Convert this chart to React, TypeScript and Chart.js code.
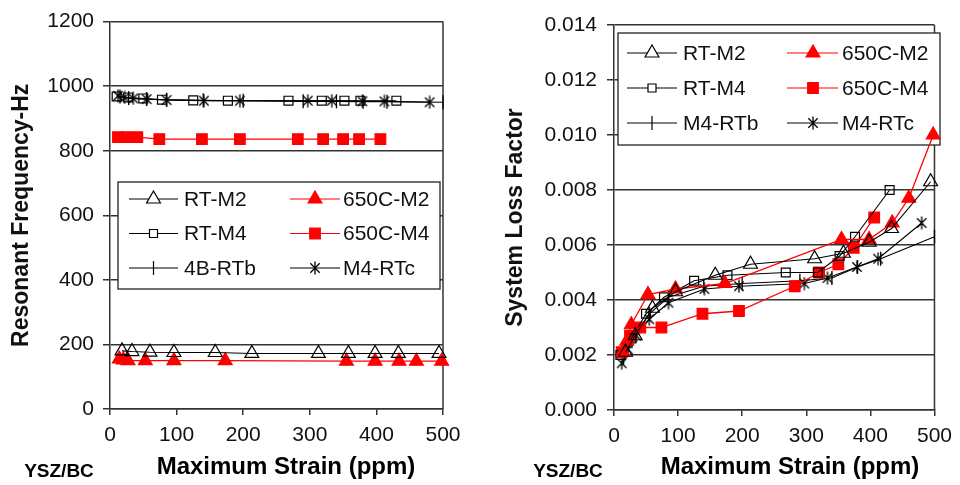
import React, { useEffect, useRef } from "react";
import { Chart, registerables } from "chart.js";

Chart.register(...registerables);

const FONT = "'Liberation Sans', Arial, Helvetica, sans-serif";
const AXIS = "#333333";
const RED = "#ff0000";

// ---- tick values ----
const strainTicks = [0, 100, 200, 300, 400, 500];
const freqTicks = [0, 200, 400, 600, 800, 1000, 1200];
const lossTicks = [0, 0.002, 0.004, 0.006, 0.008, 0.01, 0.012, 0.014];
const lossTickLabels = ["0.000", "0.002", "0.004", "0.006", "0.008", "0.010", "0.012", "0.014"];

// ---- series labels ----
const leftLabels = ["RT-M2", "650C-M2", "RT-M4", "650C-M4", "4B-RTb", "M4-RTc"];
const rightLabels = ["RT-M2", "650C-M2", "RT-M4", "650C-M4", "M4-RTb", "M4-RTc"];

// ---- data (maximum strain, ppm) ----
const rtM2Strain = [18, 33, 60, 96, 158, 213, 313, 358, 398, 433, 494];
const rtM2Freq = [180, 178, 176, 175, 175, 172, 172, 172, 172, 172, 172];
const rtM2Loss = [0.0021, 0.0027, 0.0037, 0.0043, 0.0049, 0.0053, 0.0055, 0.0057, 0.0061, 0.0066, 0.0083];

const c650M2Strain = [14, 20, 27, 53, 96, 173, 355, 398, 434, 460, 498];
const c650M2Freq = [155, 152, 150, 150, 150, 150, 148, 148, 148, 148, 148];
const c650M2Loss = [0.0021, 0.0025, 0.0031, 0.0042, 0.0044, 0.0046, 0.0062, 0.0062, 0.0068, 0.0077, 0.01];

const rtM4Strain = [10, 27, 50, 78, 125, 177, 268, 318, 352, 376, 430];
const rtM4Freq = [968, 965, 962, 958, 956, 955, 955, 955, 955, 955, 955];
const rtM4Loss = [0.002, 0.0026, 0.0035, 0.0041, 0.0047, 0.0049, 0.005, 0.005, 0.0056, 0.0063, 0.008];

const c650M4Strain = [12, 25, 41, 74, 138, 195, 282, 320, 350, 374, 406];
const c650M4Freq = [842, 842, 842, 836, 836, 836, 836, 836, 836, 836, 836];
const c650M4Loss = [0.0021, 0.0027, 0.003, 0.003, 0.0035, 0.0036, 0.0045, 0.005, 0.0053, 0.0059, 0.007];

const rtbStrain = [15, 28, 55, 85, 140, 200, 290, 340, 380, 416, 500];
const rtbFreq = [968, 963, 960, 958, 956, 955, 953, 953, 952, 952, 950];
const rtbLoss = [0.0019, 0.0025, 0.0035, 0.0041, 0.0045, 0.0046, 0.0047, 0.0048, 0.0052, 0.0055, 0.0063];

const rtcStrain = [12, 22, 35, 55, 85, 141, 195, 297, 333, 379, 412, 480];
const rtcFreq = [970, 965, 962, 960, 957, 955, 955, 955, 955, 953, 953, 950];
const rtcLoss = [0.0017, 0.0022, 0.0027, 0.0033, 0.0039, 0.0044, 0.0045, 0.0046, 0.0048, 0.0052, 0.0055, 0.0068];

type Shape = "triangle" | "square" | "bar" | "star";
interface Series {
  strain: number[];
  freq: number[];
  loss: number[];
  color: string;
  shape: Shape;
  filled: boolean;
}

const SERIES: Series[] = [
  { strain: rtM2Strain, freq: rtM2Freq, loss: rtM2Loss, color: "#000", shape: "triangle", filled: false },
  { strain: c650M2Strain, freq: c650M2Freq, loss: c650M2Loss, color: RED, shape: "triangle", filled: true },
  { strain: rtM4Strain, freq: rtM4Freq, loss: rtM4Loss, color: "#000", shape: "square", filled: false },
  { strain: c650M4Strain, freq: c650M4Freq, loss: c650M4Loss, color: RED, shape: "square", filled: true },
  { strain: rtbStrain, freq: rtbFreq, loss: rtbLoss, color: "#000", shape: "bar", filled: false },
  { strain: rtcStrain, freq: rtcFreq, loss: rtcLoss, color: "#000", shape: "star", filled: false },
];

function makeStar(size: number, color: string): HTMLCanvasElement {
  const c = document.createElement("canvas");
  c.width = size;
  c.height = size;
  const ctx = c.getContext("2d")!;
  ctx.strokeStyle = color;
  ctx.lineWidth = 1.3;
  const m = size / 2;
  const r = size / 2 - 0.5;
  const d = r * 0.72;
  ctx.beginPath();
  ctx.moveTo(m, m - r);
  ctx.lineTo(m, m + r);
  ctx.moveTo(m - d, m - d);
  ctx.lineTo(m + d, m + d);
  ctx.moveTo(m + d, m - d);
  ctx.lineTo(m - d, m + d);
  ctx.stroke();
  return c;
}

function pointProps(s: Series, star: HTMLCanvasElement) {
  const fill = s.filled ? s.color : "rgba(0,0,0,0)";
  switch (s.shape) {
    case "triangle":
      return { pointStyle: "triangle", pointRadius: 8, pointBackgroundColor: fill, pointBorderColor: s.color, pointBorderWidth: 1.2, pointRotation: 0 };
    case "square":
      return { pointStyle: "rect", pointRadius: s.filled ? 7.5 : 6.3, pointBackgroundColor: fill, pointBorderColor: s.color, pointBorderWidth: 1.2, pointRotation: 0 };
    case "bar":
      return { pointStyle: "line", pointRadius: 7, pointBackgroundColor: fill, pointBorderColor: s.color, pointBorderWidth: 1.3, pointRotation: 90 };
    default:
      return { pointStyle: star as any, pointRadius: 7, pointBackgroundColor: fill, pointBorderColor: s.color, pointBorderWidth: 1, pointRotation: 0 };
  }
}

function drawMarker(ctx: CanvasRenderingContext2D, s: Series, x: number, y: number, star: HTMLCanvasElement) {
  ctx.save();
  ctx.strokeStyle = s.color;
  ctx.fillStyle = s.filled ? s.color : "#fff";
  ctx.lineWidth = 1.2;
  if (s.shape === "triangle") {
    const r = 8;
    ctx.beginPath();
    ctx.moveTo(x, y - r);
    ctx.lineTo(x + 0.866 * r, y + 0.5 * r);
    ctx.lineTo(x - 0.866 * r, y + 0.5 * r);
    ctx.closePath();
    ctx.fill();
    ctx.stroke();
  } else if (s.shape === "square") {
    const h = s.filled ? 5.3 : 4;
    ctx.beginPath();
    ctx.rect(x - h, y - h, 2 * h, 2 * h);
    ctx.fill();
    ctx.stroke();
  } else if (s.shape === "bar") {
    ctx.beginPath();
    ctx.moveTo(x, y - 7);
    ctx.lineTo(x, y + 7);
    ctx.stroke();
  } else {
    ctx.drawImage(star, x - star.width / 2, y - star.height / 2);
  }
  ctx.restore();
}

interface Decor {
  labels: string[];
  box: { x: number; y: number; w: number; h: number };
  rows: number[];
  cols: { l1: number; l2: number; m: number; t: number }[];
  xTitleX: number;
  yszX: number;
}

function makeDecorPlugin(cfg: Decor, star: HTMLCanvasElement) {
  return {
    id: "decor",
    beforeDatasetsDraw(chart: any) {
      const ctx: CanvasRenderingContext2D = chart.ctx;
      const a = chart.chartArea;
      ctx.save();
      // right border of plot
      ctx.strokeStyle = AXIS;
      ctx.lineWidth = 1.5;
      ctx.beginPath();
      ctx.moveTo(a.right, a.top);
      ctx.lineTo(a.right, a.bottom);
      ctx.stroke();
      // legend box
      const b = cfg.box;
      ctx.fillStyle = "#fff";
      ctx.fillRect(b.x, b.y, b.w, b.h);
      ctx.strokeStyle = "#222";
      ctx.lineWidth = 1.3;
      ctx.strokeRect(b.x, b.y, b.w, b.h);
      // legend items: column-major, 3 rows x 2 cols
      const order = [
        [0, 0, 0], [1, 1, 0], [2, 0, 1], [3, 1, 1], [4, 0, 2], [5, 1, 2],
      ];
      ctx.font = `21px ${FONT}`;
      ctx.textBaseline = "middle";
      ctx.textAlign = "left";
      for (const [i, c, r] of order) {
        const s = SERIES[i];
        const col = cfg.cols[c];
        const y = cfg.rows[r];
        ctx.strokeStyle = s.color;
        ctx.lineWidth = 1.2;
        ctx.beginPath();
        ctx.moveTo(col.l1, y);
        ctx.lineTo(col.l2, y);
        ctx.stroke();
        drawMarker(ctx, s, col.m, y, star);
        ctx.fillStyle = "#111";
        ctx.fillText(cfg.labels[i], col.t, y + 1);
      }
      ctx.restore();
    },
    afterDraw(chart: any) {
      const ctx: CanvasRenderingContext2D = chart.ctx;
      ctx.save();
      ctx.fillStyle = "#000";
      ctx.textBaseline = "alphabetic";
      ctx.textAlign = "center";
      ctx.font = `bold 24px ${FONT}`;
      ctx.fillText("Maximum Strain (ppm)", cfg.xTitleX, 474);
      ctx.font = `bold 19px ${FONT}`;
      ctx.fillText("YSZ/BC", cfg.yszX, 477);
      ctx.restore();
    },
  };
}

function buildConfig(
  side: "left" | "right",
  star: HTMLCanvasElement
): any {
  const isLeft = side === "left";
  const labels = isLeft ? leftLabels : rightLabels;
  const datasets = SERIES.map((s, i) => ({
    label: labels[i],
    data: s.strain.map((x, j) => ({ x, y: isLeft ? s.freq[j] : s.loss[j] })),
    borderColor: s.color,
    backgroundColor: s.color,
    borderWidth: s.color === RED ? 1.3 : 1.1,
    tension: 0,
    fill: false,
    clip: false,
    ...pointProps(s, star),
  }));

  const decor: Decor = isLeft
    ? {
        labels,
        box: { x: 118, y: 182, w: 322, h: 107 },
        rows: [199, 233.5, 268],
        cols: [
          { l1: 129, l2: 178, m: 153.5, t: 184 },
          { l1: 290, l2: 340, m: 315, t: 343 },
        ],
        xTitleX: 286,
        yszX: 59,
      }
    : {
        labels,
        box: { x: 138, y: 33, w: 322, h: 112 },
        rows: [53, 88, 123],
        cols: [
          { l1: 147, l2: 197, m: 172, t: 203 },
          { l1: 307, l2: 358, m: 333, t: 362 },
        ],
        xTitleX: 310,
        yszX: 88,
      };

  const tickFont = { family: FONT, size: 21 };
  const yTicks = isLeft ? freqTicks : lossTicks;

  return {
    type: "line",
    data: { datasets },
    options: {
      animation: false,
      responsive: false,
      devicePixelRatio: 1,
      layout: {
        autoPadding: false,
        padding: isLeft
          ? { left: 0, right: 37, top: 20, bottom: 0 }
          : { left: 0, right: 17, top: 25, bottom: 0 },
      },
      plugins: {
        legend: { display: false },
        tooltip: { enabled: false },
      },
      scales: {
        x: {
          type: "linear",
          min: 0,
          max: 500,
          afterBuildTicks: (s: any) => {
            s.ticks = strainTicks.map((v) => ({ value: v }));
          },
          afterFit: (s: any) => {
            s.height = isLeft ? 76 : 75;
          },
          ticks: { font: tickFont, color: "#111", padding: 8, maxRotation: 0 },
          grid: { drawOnChartArea: false, drawTicks: true, tickLength: 6, color: AXIS, lineWidth: 1.5 },
          border: { display: true, color: AXIS, width: 1.5 },
        },
        y: {
          type: "linear",
          min: 0,
          max: isLeft ? 1200 : 0.014,
          afterBuildTicks: (s: any) => {
            s.ticks = yTicks.map((v) => ({ value: v }));
          },
          afterFit: (s: any) => {
            s.width = isLeft ? 110 : 134;
          },
          ticks: {
            font: tickFont,
            color: "#111",
            padding: isLeft ? 9 : 10,
            callback: (v: number) => {
              if (isLeft) return String(v);
              const idx = lossTicks.findIndex((t) => Math.abs(t - v) < 1e-9);
              return idx >= 0 ? lossTickLabels[idx] : v.toFixed(3);
            },
          },
          grid: { color: AXIS, lineWidth: 1.5, drawTicks: true, tickLength: 7, tickColor: AXIS },
          border: { display: true, color: AXIS, width: 1.5 },
          title: {
            display: true,
            text: isLeft ? "Resonant Frequency-Hz" : "System Loss Factor",
            color: "#111",
            font: { family: FONT, size: 23, weight: "bold" },
            padding: { top: isLeft ? 8 : 22, bottom: 0 },
          },
        },
      },
    },
    plugins: [makeDecorPlugin(decor, star)],
  };
}

function ChartCanvas({ side }: { side: "left" | "right" }) {
  const ref = useRef<HTMLCanvasElement | null>(null);
  useEffect(() => {
    if (!ref.current) return;
    const star = makeStar(14, "#000");
    const chart = new Chart(ref.current, buildConfig(side, star));
    return () => chart.destroy();
  }, [side]);
  return (
    <canvas
      ref={ref}
      width={480}
      height={485}
      style={{
        position: "absolute",
        left: side === "left" ? 0 : 480,
        top: 0,
        width: 480,
        height: 485,
      }}
    />
  );
}

export default function App() {
  return (
    <div
      style={{
        position: "absolute",
        left: 0,
        top: 0,
        width: 960,
        height: 485,
        background: "#fff",
        overflow: "hidden",
      }}
    >
      <ChartCanvas side="left" />
      <ChartCanvas side="right" />
    </div>
  );
}
